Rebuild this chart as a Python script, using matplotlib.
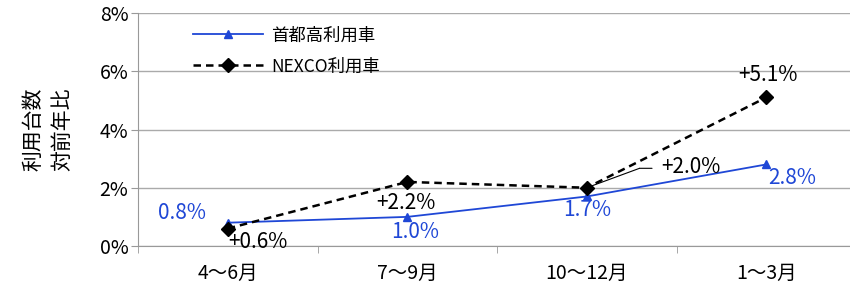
import matplotlib.pyplot as plt
from matplotlib.transforms import offset_copy

plt.rcParams['font.family'] = ['Noto Sans CJK JP', 'DejaVu Sans']

periods = ['4～6月', '7～9月', '10～12月', '1～3月']
shutoko = [0.8, 1.0, 1.7, 2.8]
nexco = [0.6, 2.2, 2.0, 5.1]
shutoko_labels = ['0.8%', '1.0%', '1.7%', '2.8%']
nexco_labels = ['+0.6%', '+2.2%', '+2.0%', '+5.1%']

blue = '#1f47d6'

fig = plt.figure(figsize=(8.5, 2.87), dpi=100)
ax = fig.add_axes([138 / 850, 1 - 246 / 287, 718 / 850, 233 / 287])

x = range(len(periods))
ax.plot(x, shutoko, color=blue, lw=1.3, marker='^', ms=6, label='首都高利用車')
ax.plot(x, nexco, color='black', lw=1.8, ls=(0, (3, 2)), marker='D', ms=7.5,
        label='NEXCO利用車')

# data labels (offsets in points)
s_off = [(-33, 7), (6, -11), (0, -10), (19, -10)]
for i, (v, t) in enumerate(zip(shutoko, shutoko_labels)):
    ax.annotate(t, (i, v), xytext=s_off[i], textcoords='offset points',
                ha='center', va='center', color=blue, fontsize=15)
n_off = [(22, -10), (-1, -15), (75, 15), (1, 16)]
for i, (v, t) in enumerate(zip(nexco, nexco_labels)):
    ax.annotate(t, (i, v), xytext=n_off[i], textcoords='offset points',
                ha='center', va='center', color='black', fontsize=15)

# leader line for +2.0% (diagonal + short horizontal)
ax.annotate('', (2, nexco[2]), xytext=(38, 14), textcoords='offset points',
            arrowprops=dict(arrowstyle='-', color='black', lw=0.8,
                            shrinkA=0, shrinkB=0))
corner = offset_copy(ax.transData, fig=fig, x=38, y=14, units='points')
ax.annotate('', (2, nexco[2]), xycoords=corner, xytext=(9, 0),
            textcoords='offset points',
            arrowprops=dict(arrowstyle='-', color='black', lw=0.8,
                            shrinkA=0, shrinkB=0))

ax.set_xlim(-0.5, 3.5)
ax.set_ylim(0, 8)
ax.set_yticks([0, 2, 4, 6, 8])
ax.set_yticklabels(['0%', '2%', '4%', '6%', '8%'], fontsize=14)
ax.set_xticks([0, 1, 2, 3])
ax.set_xticklabels(periods, fontsize=14)
ax.set_xticks([-0.5, 0.5, 1.5, 2.5, 3.5], minor=True)
ax.tick_params(axis='x', which='major', length=0, pad=12)
ax.tick_params(axis='x', which='minor', length=5, color='#999999')
ax.tick_params(axis='y', length=5, color='#999999', pad=2)
ax.grid(axis='y', color='#aaaaaa', lw=1)
ax.set_axisbelow(True)
for s in ['top', 'right']:
    ax.spines[s].set_visible(False)
for s in ['left', 'bottom']:
    ax.spines[s].set_color('#999999')

ax.legend(loc='upper left', bbox_to_anchor=(0.055, 1.01), frameon=False,
          fontsize=12.5, handlelength=4.0, handletextpad=0.5, labelspacing=0.75)

fig.text(0.039, 0.55, '利用台数', rotation=90, ha='center', va='center', fontsize=15)
fig.text(0.073, 0.55, '対前年比', rotation=90, ha='center', va='center', fontsize=15)

fig.savefig('out.png', dpi=100)
